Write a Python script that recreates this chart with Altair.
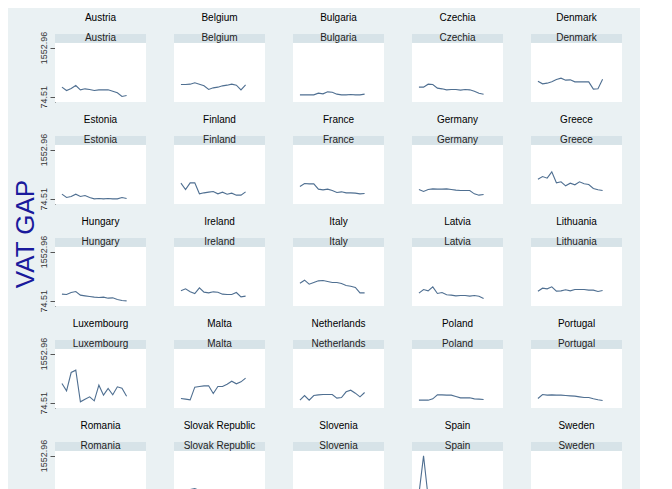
import altair as alt
import pandas as pd

years = list(range(2008, 2023))

countries = [
    "Austria", "Belgium", "Bulgaria", "Czechia", "Denmark",
    "Estonia", "Finland", "France", "Germany", "Greece",
    "Hungary", "Ireland", "Italy", "Latvia", "Lithuania",
    "Luxembourg", "Malta", "Netherlands", "Poland", "Portugal",
    "Romania", "Slovak Republic", "Slovenia", "Spain", "Sweden",
]

vat_gap = {
    "Austria": [365, 265, 325, 415, 285, 315, 295, 265, 285, 285, 285, 245, 195, 85, 115],
    "Belgium": [445, 445, 455, 495, 455, 405, 295, 345, 365, 405, 425, 455, 425, 285, 435],
    "Bulgaria": [135, 135, 135, 135, 185, 165, 225, 215, 155, 135, 135, 145, 135, 135, 155],
    "Czechia": [365, 365, 455, 445, 335, 315, 285, 295, 295, 275, 295, 285, 245, 185, 155],
    "Denmark": [545, 465, 485, 525, 595, 635, 575, 585, 525, 525, 525, 525, 305, 315, 605],
    "Estonia": [215, 115, 145, 215, 145, 175, 115, 75, 85, 75, 85, 75, 75, 115, 85],
    "Finland": [545, 355, 555, 555, 225, 255, 275, 295, 225, 275, 215, 245, 185, 185, 285],
    "France": [445, 535, 525, 525, 365, 345, 365, 325, 265, 285, 255, 255, 245, 225, 235],
    "Germany": [355, 295, 355, 375, 365, 365, 375, 355, 335, 325, 325, 325, 225, 185, 205],
    "Greece": [665, 745, 695, 885, 555, 585, 465, 545, 495, 585, 525, 505, 385, 345, 325],
    "Hungary": [275, 265, 325, 355, 245, 225, 205, 185, 175, 185, 155, 165, 115, 85, 75],
    "Ireland": [375, 435, 345, 295, 465, 335, 315, 345, 335, 275, 265, 265, 325, 195, 215],
    "Italy": [605, 695, 575, 625, 675, 685, 655, 625, 625, 595, 535, 515, 475, 315, 315],
    "Latvia": [305, 415, 375, 495, 295, 325, 255, 245, 225, 235, 235, 215, 235, 215, 145],
    "Lithuania": [365, 455, 435, 495, 365, 375, 405, 375, 415, 415, 415, 395, 395, 355, 385],
    "Luxembourg": [655, 435, 985, 1055, 105, 185, 255, 135, 605, 305, 505, 315, 555, 515, 275],
    "Malta": [205, 185, 165, 545, 565, 585, 585, 355, 565, 565, 635, 725, 645, 705, 815],
    "Netherlands": [155, 295, 155, 295, 315, 325, 325, 325, 215, 235, 405, 455, 365, 255, 385],
    "Poland": [155, 155, 155, 195, 315, 315, 305, 305, 265, 225, 225, 225, 195, 185, 175],
    "Portugal": [205, 325, 305, 315, 305, 305, 295, 285, 275, 255, 235, 235, 195, 165, 145],
    "Romania": [315, 355, 415, 465, 325, 355, 375, 325, 325, 315, 315, 365, 395, 435, 445],
    "Slovak Republic": [425, 495, 535, 565, 505, 455, 455, 455, 325, 275, 275, 285, 275, 275, 325],
    "Slovenia": [225, 235, 235, 225, 215, 165, 215, 205, 155, 145, 155, 175, 165, 155, 275],
    "Spain": [395, 1545, 295, 365, 195, 225, 195, 195, 165, 195, 185, 195, 155, 155, 155],
    "Sweden": [165, 145, 155, 165, 325, 205, 185, 205, 175, 225, 165, 185, 185, 305, 335],
}

y_ticks = [74.51, 567.33, 1060.14, 1552.96]
x_ticks = [2010, 2015, 2020, 2025]

rows = []
for c in countries:
    for yr, v in zip(years, vat_gap[c]):
        rows.append({"country": c, "year": yr, "gap": v})
df = pd.DataFrame(rows)

x_scale = alt.Scale(domain=[2006.5, 2026.2], nice=False)
y_scale = alt.Scale(domain=[-80, 1960], nice=False)

plot_bg = alt.Chart().mark_rect(color="white").encode(
    x=alt.value(0), x2=alt.value(91),
    y=alt.datum(-80), y2=alt.datum(1710),
)

band = alt.Chart().mark_rect(color="#d7e3e8").encode(
    x=alt.value(0), x2=alt.value(91),
    y=alt.datum(1710), y2=alt.datum(1960),
)

line = alt.Chart().mark_line(color="#4f6f91", strokeWidth=1.1).encode(
    x=alt.X("year:Q", scale=x_scale, title=None,
            axis=alt.Axis(values=x_ticks, format="d", grid=False)),
    y=alt.Y("gap:Q", scale=y_scale, title=None,
            axis=alt.Axis(values=y_ticks, labelAngle=270, labelAlign="center",
                          labelBaseline="bottom", zindex=1,
                          labelExpr="datum.value < 100 || datum.value > 1500 ? format(datum.value, '.2f') : ''")),
)

label = alt.Chart().transform_filter("datum.year == 2008").mark_text(
    fontSize=10, font="Liberation Sans", color="#222"
).encode(x=alt.value(45.5), y=alt.datum(1835), text="country:N")

panels = (
    alt.layer(plot_bg, band, line, label, data=df)
    .properties(width=91, height=68)
    .facet(facet=alt.Facet("country:N", sort=countries, header=alt.Header(labels=False), title=None),
           columns=5, spacing={"row": 13, "column": 28})
)

title_df = pd.DataFrame({"t": ["VAT GAP"]})
y_title = alt.Chart(title_df).mark_text(
    angle=270, fontSize=26, color="#1a1a9c"
).encode(x=alt.value(12), y=alt.value(200), text="t:N").properties(width=24, height=400)

x_df = pd.DataFrame({"t": ["YEAR"]})
x_title = alt.Chart(x_df).mark_text(
    fontSize=26, color="#1a1a9c"
).encode(x=alt.value(300), y=alt.value(14), text="t:N").properties(width=580, height=30)

chart = (
    alt.hconcat(y_title, alt.vconcat(panels, x_title, spacing=2), spacing=0)
    .configure(background="#eaf1f3", font="Liberation Sans")
    .configure_view(stroke=None)
    .configure_header(labels=False)
    .configure_headerFacet(labels=False)
    .configure_axis(labelFontSize=9, labelColor="#333", tickColor="#555", domainColor="#555",
                    gridColor="#eef2f4", labelPadding=2)
)

chart.save("out.html", embed_options={"renderer": "svg", "actions": False})
